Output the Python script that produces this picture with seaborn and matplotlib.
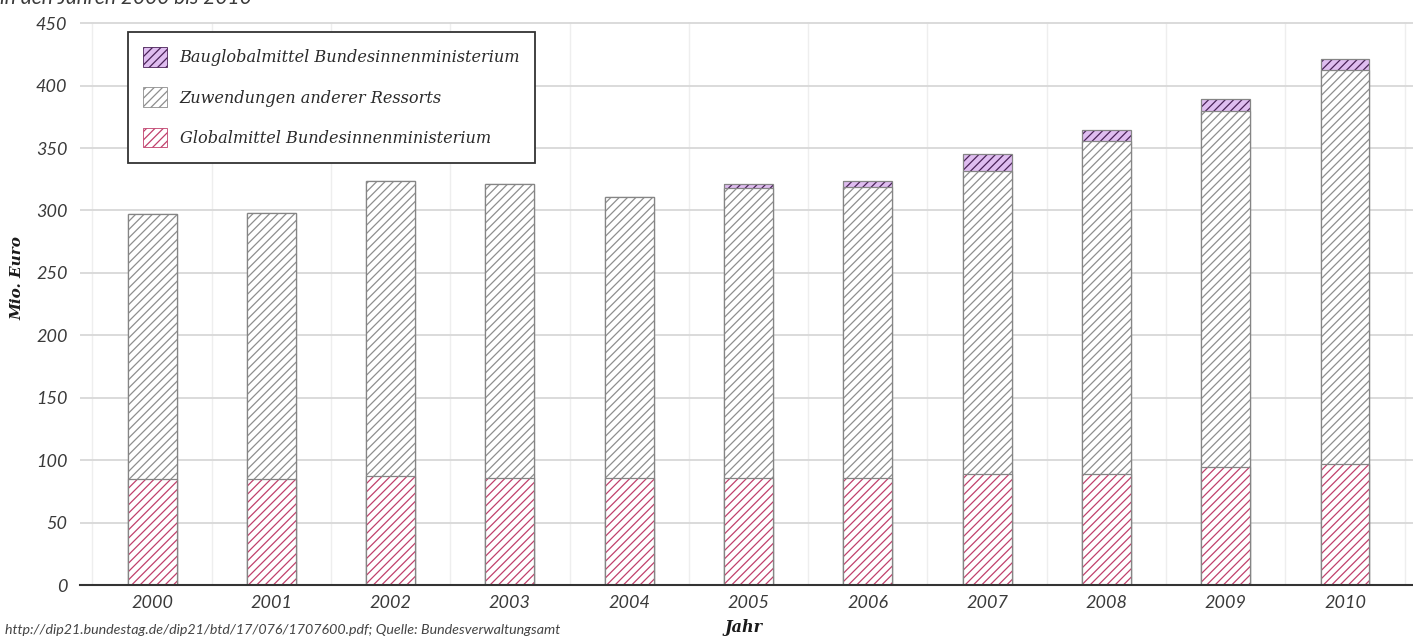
import matplotlib
matplotlib.use("Agg")
import matplotlib.pyplot as plt
import seaborn as sns
import numpy as np
from matplotlib.patches import Patch

# Jahreswerte in Mio. Euro
years = ["2000", "2001", "2002", "2003", "2004", "2005",
         "2006", "2007", "2008", "2009", "2010"]
globalmittel = [85, 85, 87, 86, 86, 86, 86, 89, 89, 94.5, 97]
zuwendungen = [212, 213, 236.5, 235.5, 225, 232, 233, 243, 267, 285.5, 315.5]
bauglobalmittel = [0, 0, 0, 0, 0, 3.5, 5, 13, 8.5, 9, 9]

series_labels = ["Bauglobalmittel Bundesinnenministerium",
                 "Zuwendungen anderer Ressorts",
                 "Globalmittel Bundesinnenministerium"]
y_ticks = [0, 50, 100, 150, 200, 250, 300, 350, 400, 450]

sns.set_style("white")
plt.rcParams["hatch.linewidth"] = 0.9

W, H = 1413, 637
fig = plt.figure(figsize=(W / 100, H / 100), dpi=100)
ax = fig.add_axes([80 / W, (H - 585) / H, (W - 80) / W, (585 - 22) / H])

# cumulative heights, tallest layer drawn first
tot_pink = np.array(globalmittel, dtype=float)
tot_gray = tot_pink + np.array(zuwendungen)
tot_purple = tot_gray + np.array(bauglobalmittel)

layers = [
    (tot_purple, "#dfbdf0", "#4a2258"),
    (tot_gray, "#ffffff", "#8e8e8e"),
    (tot_pink, "#ffffff", "#c0406c"),
]
hatch = "////"
bar_w = 0.41
for heights, face, hatch_col in layers:
    sns.barplot(x=years, y=heights, order=years, color=face, saturation=1,
                width=bar_w, hatch=hatch, edgecolor=hatch_col, linewidth=0,
                errorbar=None, ax=ax)
    sns.barplot(x=years, y=heights, order=years, fill=False, color="#858585",
                width=bar_w, linewidth=0.9, errorbar=None, ax=ax)

ax.set_xlim(-0.604, 10.57)
ax.set_ylim(0, 451)
ax.set_yticks(y_ticks)
ax.set_axisbelow(True)

# grid: horizontal at values, vertical at category boundaries
ax.grid(axis="y", color="#dadada", linewidth=1.4)
ax.set_xticks(np.arange(-0.5, len(years), 1), minor=True)
ax.grid(axis="x", which="minor", color="#eeeeee", linewidth=1.0)
ax.tick_params(axis="x", which="minor", length=24, width=1.0, color="#eeeeee",
               direction="out")
ax.tick_params(axis="x", which="major", length=0, pad=7)
ax.tick_params(axis="y", length=0, pad=9)

for s in ["top", "right", "left"]:
    ax.spines[s].set_visible(False)
ax.spines["bottom"].set_color("#333333")
ax.spines["bottom"].set_linewidth(1.5)

for lab in ax.get_xticklabels() + ax.get_yticklabels():
    lab.set_fontfamily("Lato")
    lab.set_fontstyle("italic")
    lab.set_fontsize(13)
    lab.set_color("#3a3a3a")

ax.set_xlabel("")
ax.set_ylabel("")

handles = [Patch(facecolor=f, edgecolor=h, hatch="////", linewidth=0.6)
           for _, f, h in layers]
leg = ax.legend(handles, series_labels, loc="upper left",
                bbox_to_anchor=((128 - 80) / (W - 80), 1 - 10 / (585 - 22)),
                borderaxespad=0, fancybox=False, framealpha=1,
                handlelength=1.5, handleheight=1.5, handletextpad=0.75,
                labelspacing=1.27, borderpad=0.95,
                prop={"family": "DejaVu Serif", "style": "italic", "size": 11.6})
leg.get_frame().set_edgecolor("#333333")
leg.get_frame().set_linewidth(1.3)
for t in leg.get_texts():
    t.set_color("#2a2a2a")

fig.text(17 / W, 1 - 278 / H, "Mio. Euro", rotation=90, ha="center", va="center",
         family="DejaVu Serif", style="italic", weight="bold", size=11,
         color="#1a1a1a")
fig.text(744 / W, 1 - 632 / H, "Jahr", ha="center", va="baseline",
         family="DejaVu Serif", style="italic", weight="bold", size=11.5,
         color="#1a1a1a")
fig.text(5 / W, 1 - 634 / H,
         "http://dip21.bundestag.de/dip21/btd/17/076/1707600.pdf; Quelle: Bundesverwaltungsamt",
         ha="left", va="baseline", family="Lato", style="italic", size=10.3,
         color="#444444")
fig.text(0 / W, 1 - 4 / H, "in den Jahren 2000 bis 2010", ha="left",
         va="baseline", family="Lato", style="italic", size=15,
         color="#3a3a3a")

fig.savefig("out.png", dpi=100)
